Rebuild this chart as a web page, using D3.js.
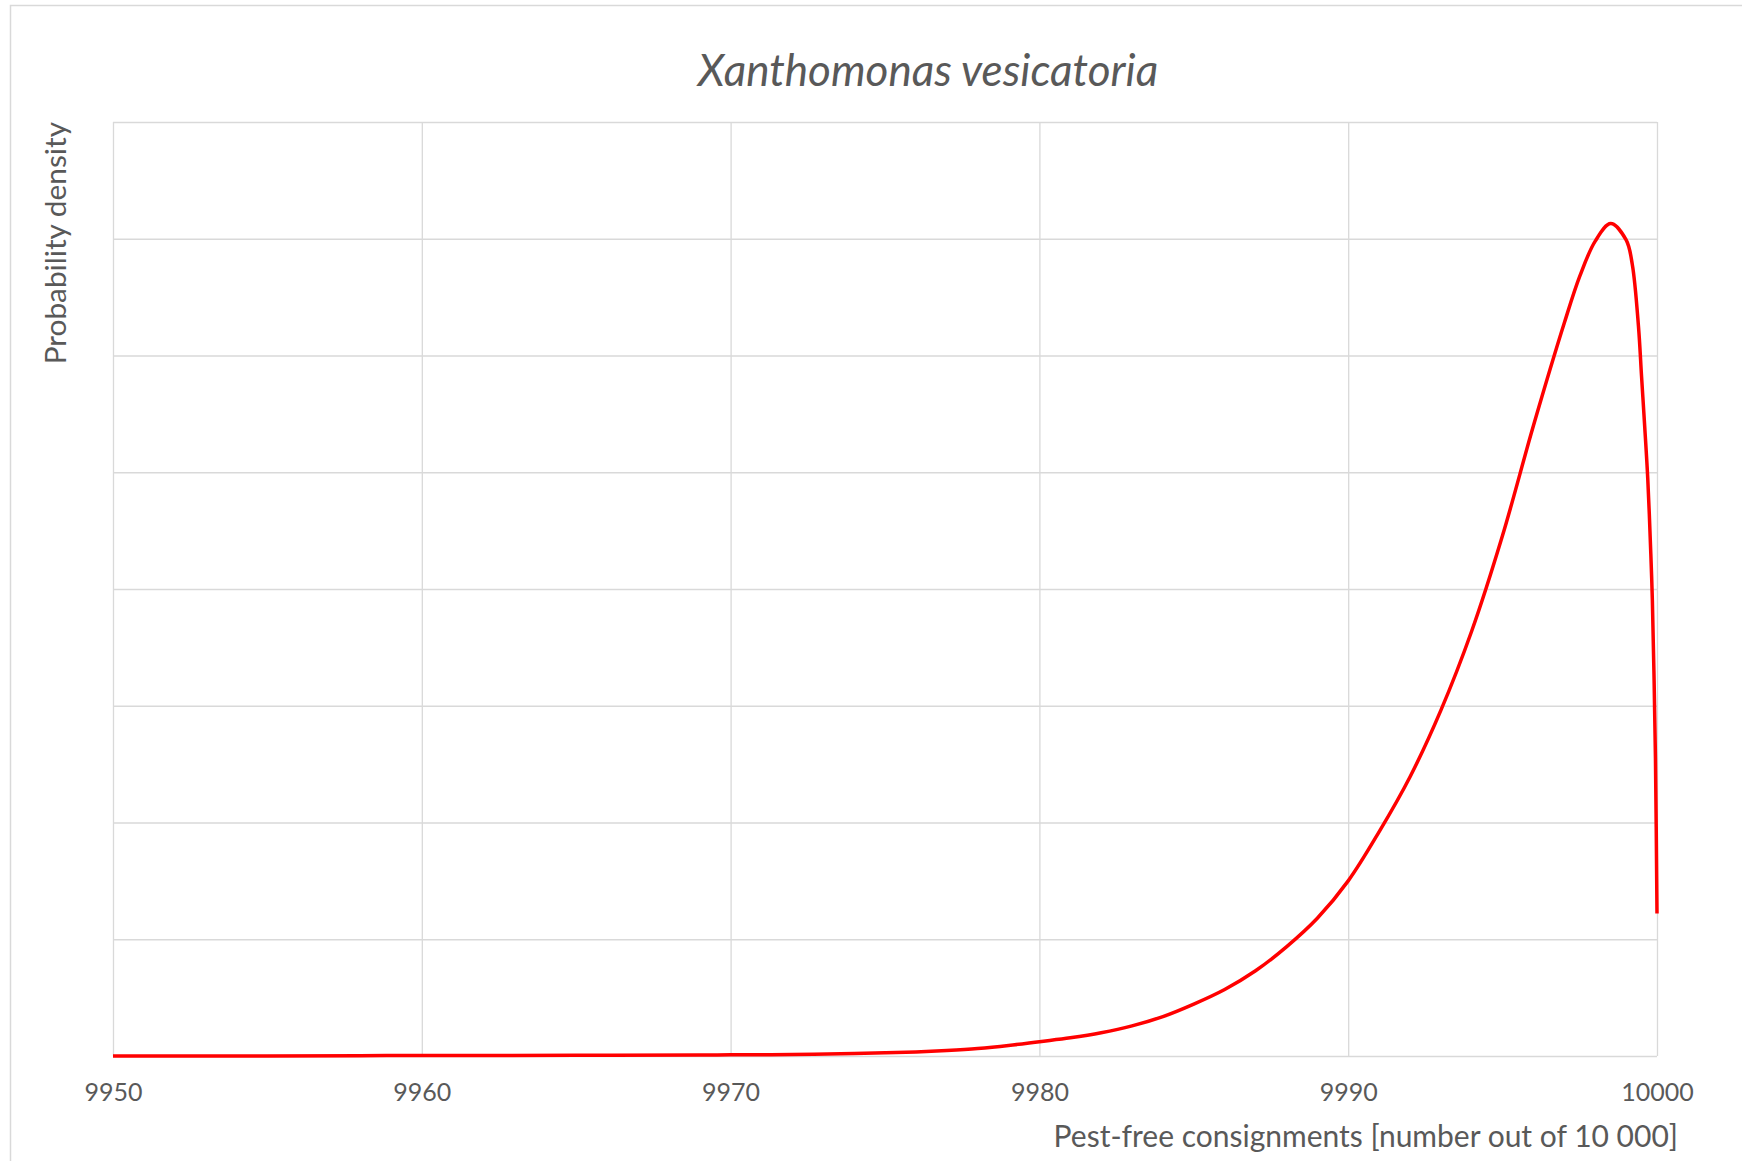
<html><head>
<title>Xanthomonas vesicatoria</title>
<script src="https://d3js.org/d3.v7.min.js"></script>
<style>
  body { margin: 0; background: #fff; }

  .gridlines line {
    stroke: #d9d9d9;
    stroke-width: 1.3;
  }

  .gridlines .domain {
    stroke: none;
  }

  .axis .domain, .axis line {
    stroke: none;
  }

  .axis text {
    fill: #595959;
    font-family: Lato, "Open Sans", sans-serif;
    font-size: 25px;
  }
</style>
</head>
<body>
<svg id="chart" width="1742" height="1161"></svg>
<script>

  // values (x = pest-free consignments, y = density, arbitrary units)
  const consignments = [9950, 9955, 9958, 9960, 9965, 9969, 9970, 9972, 9974, 9975,
                        9976, 9977, 9978, 9979, 9980, 9981, 9982, 9983, 9984, 9985,
                        9986, 9987, 9988, 9989, 9990, 9991, 9992, 9993, 9994, 9995,
                        9996, 9997, 9997.5, 9998, 9998.5, 9999, 9999.2, 9999.4, 9999.5, 9999.6,
                        9999.7, 9999.8, 9999.85, 9999.9, 9999.95, 10000];
  const density = [0.0, 0.001, 0.003, 0.004, 0.006, 0.008, 0.010, 0.013, 0.021, 0.027,
                   0.035, 0.047, 0.064, 0.090, 0.123, 0.156, 0.199, 0.258, 0.338, 0.445,
                   0.57, 0.73, 0.935, 1.18, 1.50, 1.92, 2.39, 2.96, 3.64, 4.46,
                   5.40, 6.28, 6.68, 6.98, 7.13, 6.99, 6.78, 6.25, 5.82, 5.40,
                   4.95, 4.30, 3.90, 3.30, 2.55, 1.22];

  const xTicks = [9950, 9960, 9970, 9980, 9990, 10000];
  const yTicks = [0, 1, 2, 3, 4, 5, 6, 7, 8];

  const svg = d3.select("svg#chart");
  const width = svg.attr("width");
  const height = svg.attr("height");
  const margin = {top: 122, right: 85, bottom: 105, left: 113};
  const chartWidth = width - margin.left - margin.right;
  const chartHeight = height - margin.top - margin.bottom;

  // outer chart frame (cut off on right and bottom like the screenshot)
  svg.append("rect")
    .attr("x", 10.5).attr("y", 5.5)
    .attr("width", 2000).attr("height", 2000)
    .attr("fill", "none")
    .attr("stroke", "#d9d9d9")
    .attr("stroke-width", 1.5);

  const xScale = d3.scaleLinear().domain([9950, 10000]).range([0, chartWidth]);
  const yScale = d3.scaleLinear().domain([0, 8]).range([chartHeight, 0]);

  let annotations = svg.append("g").attr("id", "annotations");
  let chartArea = svg.append("g")
    .attr("transform", "translate(" + margin.left + "," + margin.top + ")");

  // gridlines with the negative tickSize trick
  annotations.append("g")
    .attr("class", "x gridlines")
    .attr("transform", "translate(" + margin.left + "," + (margin.top + chartHeight) + ")")
    .call(d3.axisBottom(xScale).tickValues(xTicks).tickSize(-chartHeight).tickFormat(""));
  annotations.append("g")
    .attr("class", "y gridlines")
    .attr("transform", "translate(" + margin.left + "," + margin.top + ")")
    .call(d3.axisLeft(yScale).tickValues(yTicks).tickSize(-chartWidth).tickFormat(""));

  // x tick labels
  annotations.append("g")
    .attr("class", "x axis")
    .attr("transform", "translate(" + margin.left + "," + (margin.top + chartHeight) + ")")
    .call(d3.axisBottom(xScale).tickValues(xTicks).tickSize(0).tickPadding(27).tickFormat(d3.format("d")));

  // the curve - centripetal catmull-rom is close to excel's smoothed line
  const line = d3.line()
    .x((d, i) => xScale(consignments[i]))
    .y(d => yScale(d))
    .curve(d3.curveCatmullRom.alpha(0.5));

  chartArea.append("path")
    .datum(density)
    .attr("d", line)
    .attr("fill", "none")
    .attr("stroke", "#ff0000")
    .attr("stroke-width", 3.5)
    .attr("stroke-linejoin", "round");

  // titles
  svg.append("text")
    .attr("x", 928).attr("y", 86)
    .attr("text-anchor", "middle")
    .style("font-family", "Lato, 'Open Sans', sans-serif")
    .style("font-style", "italic")
    .style("font-size", "44px")
    .style("fill", "#595959")
    .text("Xanthomonas vesicatoria");

  svg.append("text")
    .attr("transform", "translate(66,122) rotate(-90)")
    .attr("text-anchor", "end")
    .style("font-family", "Lato, 'Open Sans', sans-serif")
    .style("font-size", "29.8px")
    .style("fill", "#595959")
    .text("Probability density");

  svg.append("text")
    .attr("x", 1678).attr("y", 1147)
    .attr("text-anchor", "end")
    .style("font-family", "Lato, 'Open Sans', sans-serif")
    .style("font-size", "30px")
    .style("fill", "#595959")
    .text("Pest-free consignments [number out of 10 000]");

</script>
</body>
</html>
